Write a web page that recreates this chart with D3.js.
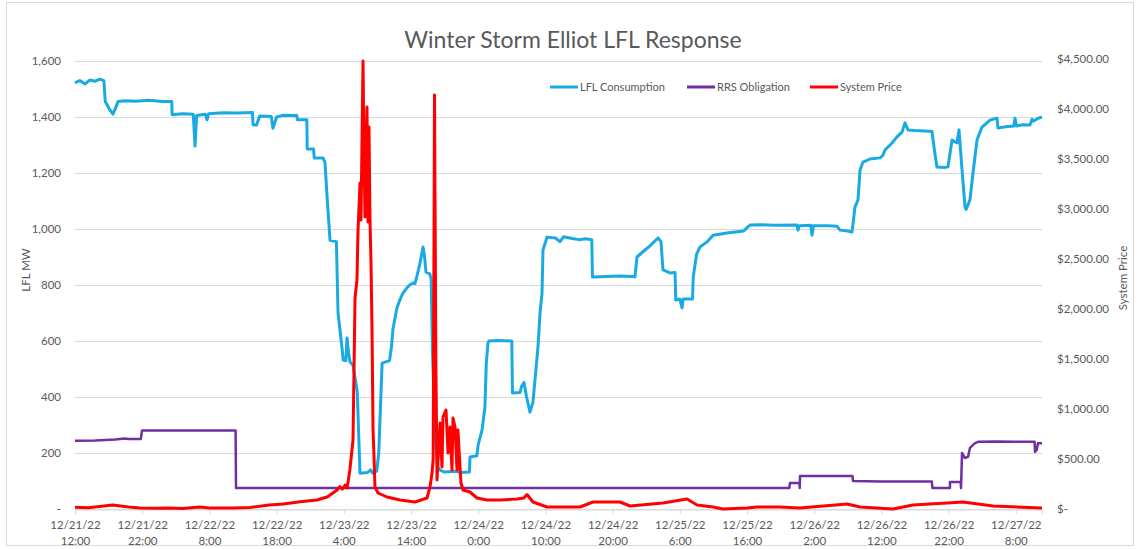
<!DOCTYPE html>
<html>
<head>
<meta charset="utf-8">
<script src="https://cdn.jsdelivr.net/npm/d3@7"></script>
<style>
  html, body { margin: 0; padding: 0; background: #fff; }
  svg { display: block; font-family: Lato, "Open Sans", sans-serif; }
</style>
</head>
<body>
<svg id="chart" width="1139" height="549"></svg>
<script>
// ---------- DATA (hours since 12/21/22 12:00) ----------
const chartTitle = "Winter Storm Elliot LFL Response";
const seriesNames = ["LFL Consumption", "RRS Obligation", "System Price"];
const xTickHours = [0, 10, 20, 30, 40, 50, 60, 70, 80, 90, 100, 110, 120, 130, 140];
const leftTicks = [0, 200, 400, 600, 800, 1000, 1200, 1400, 1600];
const rightTicks = [0, 500, 1000, 1500, 2000, 2500, 3000, 3500, 4000, 4500];

const lflHours = [0,0.7,1.5,2.2,3.0,3.7,4.3,4.5,5.2,5.65,6.0,6.4,7.5,9.0,11.0,13.0,14.4,14.45,16.0,17.6,17.86,18.1,19.4,19.64,19.9,22.0,24.0,26.4,26.5,27.0,27.5,29.2,29.46,30.0,31.0,33.0,33.1,34.5,34.55,35.5,35.6,36.9,37.2,37.5,37.95,38.9,39.14,39.43,39.8,39.9,40.3,40.48,40.7,40.92,41.37,42.0,42.41,43.5,44.0,44.3,44.9,45.2,45.7,46.8,47.1,47.3,47.9,48.4,48.8,49.4,49.8,50.3,50.6,51.0,51.34,51.79,52.0,52.23,52.8,53.0,53.2,53.6,54.0,54.32,55.0,56.5,57.5,58.7,58.78,59.8,60.0,60.57,61.0,61.2,61.46,61.6,63.0,65.0,65.1,66.2,66.5,66.82,67.2,67.71,68.15,68.9,69.2,69.5,69.64,70.24,71.5,72.17,72.7,74.0,75.0,76.0,76.9,77.0,79.0,81.0,83.0,83.33,83.63,84.82,85.57,86.2,86.76,87.2,87.5,88.54,89.29,89.4,90.0,90.33,90.5,91.9,92.0,92.5,93.01,94.05,94.94,97.02,99.5,100.0,100.45,102.0,104.0,107.44,107.59,107.8,109.5,109.67,109.9,112.0,113.39,113.84,115.0,115.63,116.07,116.52,116.82,117.26,118.3,119.79,120.2,120.54,121.58,122.32,123.07,123.51,123.96,125.0,126.5,127.53,127.9,128.27,129.5,129.91,130.51,131.25,131.55,132.0,132.44,132.6,133.18,133.63,134.23,134.97,136.16,137.2,137.35,138.5,139.7,139.88,140.1,141.0,142.11,142.41,142.6,143.3,143.9];
const lflMW = [1522,1530,1518,1532,1528,1535,1530,1455,1425,1410,1430,1455,1458,1456,1460,1455,1455,1408,1412,1410,1296,1405,1410,1390,1412,1415,1414,1416,1372,1371,1404,1402,1360,1400,1406,1405,1390,1390,1286,1286,1254,1254,1238,1120,960,955,700,640,560,532,530,611,560,525,514,420,128,130,140,128,135,200,521,530,580,640,718,750,771,790,800,807,805,843,878,936,905,846,840,820,560,250,150,139,132,135,130,132,186,190,230,282,364,520,593,600,602,600,414,416,440,452,400,346,382,580,700,771,925,971,968,955,972,966,962,965,962,829,830,832,830,829,900,925,940,955,968,955,854,843,845,746,750,718,750,750,829,910,936,954,978,986,993,1005,1014,1015,1013,1014,996,1012,1013,978,1012,1012,1010,996,993,989,1079,1104,1211,1239,1250,1254,1262,1282,1307,1329,1346,1379,1354,1352,1350,1348,1280,1221,1220,1222,1318,1307,1354,1211,1079,1070,1104,1200,1318,1364,1389,1396,1361,1365,1368,1396,1368,1372,1371,1392,1385,1395,1400];

const rrsHours = [0,3,6,7.4,8.0,9.8,9.97,23.9,23.96,106.3,106.4,107.8,107.85,107.89,115.7,115.77,120,127.5,127.6,130.2,130.21,131.8,131.85,132.0,132.44,132.89,133.18,133.93,134.38,137,140,142.8,142.86,143.1,143.3,143.9];
const rrsMW = [244,245,248,252,250,250,280,280,75,75,93,93,75,118,118,100,98,98,75,75,96,96,75,200,182,186,218,235,240,241,240,240,204,210,235,235];

const priceHours = [0,2,5.6,8,9.7,12,13.8,16,18.6,20,23.4,26,28.9,31,33.5,36,37.6,39.0,39.4,39.8,40.2,40.5,40.9,41.37,41.67,41.96,42.11,42.41,42.56,42.86,43.0,43.15,43.45,43.6,43.75,43.9,44.05,44.2,44.35,44.45,44.64,45.09,46.43,48.36,50.6,52.38,52.83,53.13,53.3,53.5,53.7,53.87,54.32,54.61,54.76,55.21,55.51,55.8,56.1,56.25,56.55,56.85,56.99,57.29,57.44,57.74,58.78,59.82,61.31,63.24,65.77,66.8,67.26,68.15,70.24,75.15,77.08,81.1,82.59,87.5,91.07,92.56,94.94,96.43,100.0,101.49,104.91,107.89,114.88,116.82,121.73,124.7,129.76,132.14,136.61,143.9];
const priceUSD = [17,12,40,20,10,8,10,5,20,10,10,15,40,50,73,90,123,190,223,200,240,210,390,690,2110,2290,2770,3260,2890,4480,3600,2920,4020,2870,3820,2880,2460,1790,790,620,220,160,120,90,70,110,220,360,500,4140,1500,290,860,420,920,990,560,820,390,910,820,390,790,420,260,190,170,110,90,90,100,110,145,70,20,20,70,70,30,60,100,40,20,0,10,20,20,10,50,20,0,40,60,70,30,10];

// ---------- CHART ----------
const svg = d3.select("#chart");
const start = new Date(2022, 11, 21, 12, 0);
const hr = h => new Date(+start + h * 3600e3);

const plotL = 75, plotR = 1042, plotT = 61, plotB = 509;
const x = d3.scaleTime().domain([hr(0), hr(143.9)]).range([plotL, plotR]);
const yL = d3.scaleLinear().domain([0, 1600]).range([plotB, plotT]);
const yR = d3.scaleLinear().domain([0, 4500]).range([plotB, 59]);

const gray = "#595959";
const gridC = "#d9d9d9";

// outer border
svg.append("rect").attr("x", 6.5).attr("y", 2.5).attr("width", 1127).attr("height", 543)
  .attr("fill", "none").attr("stroke", gridC).attr("stroke-width", 1);

// title
svg.append("text").attr("x", 573).attr("y", 48).attr("text-anchor", "middle")
  .attr("font-size", 23).attr("fill", gray).text(chartTitle);

// gridlines
svg.append("g").selectAll("line").data(leftTicks).join("line")
  .attr("x1", plotL).attr("x2", plotR)
  .attr("y1", d => Math.round(yL(d)) + 0.5).attr("y2", d => Math.round(yL(d)) + 0.5)
  .attr("stroke", gridC).attr("stroke-width", 1);

// left axis
const leftAxis = d3.axisLeft(yL).tickValues(leftTicks).tickSize(0).tickPadding(0)
  .tickFormat(d => d === 0 ? "-" : d3.format(",")(d));
const gL = svg.append("g").attr("transform", `translate(${plotL - 14},0)`).call(leftAxis);
gL.select(".domain").remove();
gL.selectAll("text").attr("font-size", 11.5).attr("fill", gray).attr("font-family", "Lato, sans-serif");

// right axis
const rightAxis = d3.axisRight(yR).tickValues(rightTicks).tickSize(0).tickPadding(0)
  .tickFormat(d => d === 0 ? "$-" : "$" + d3.format(",.2f")(d));
const gR = svg.append("g").attr("transform", `translate(1057,0)`).call(rightAxis);
gR.select(".domain").remove();
gR.selectAll("text").attr("font-size", 11.5).attr("fill", gray).attr("font-family", "Lato, sans-serif");

// bottom axis
const fmtD = d3.timeFormat("%m/%d/%y"), fmtT = d3.timeFormat("%-H:%M");
const bottomAxis = d3.axisBottom(x).tickValues(xTickHours.map(hr)).tickSize(5).tickFormat("");
const gB = svg.append("g").attr("transform", `translate(0,${plotB + 0.5})`).call(bottomAxis);
gB.select(".domain").attr("stroke", gridC);
gB.selectAll(".tick line").attr("stroke", gridC);
const tk = gB.selectAll(".tick");
tk.append("text").attr("y", 19).attr("text-anchor", "middle").attr("font-size", 11.5)
  .attr("fill", gray).attr("font-family", "Lato, sans-serif").text(d => fmtD(d));
tk.append("text").attr("y", 35).attr("text-anchor", "middle").attr("font-size", 11.5)
  .attr("fill", gray).attr("font-family", "Lato, sans-serif").text(d => fmtT(d));

// axis titles
svg.append("text").attr("transform", "translate(30,270) rotate(-90)").attr("text-anchor", "middle")
  .attr("font-size", 11.5).attr("fill", gray).text("LFL MW");
svg.append("text").attr("transform", "translate(1127,278) rotate(-90)").attr("text-anchor", "middle")
  .attr("font-size", 11.5).attr("fill", gray).text("System Price");

// lines
const colors = ["#1AAAE3", "#7030A0", "#FF0000"];
const mk = (hs, vs) => hs.map((h, i) => [hr(h), vs[i]]);
const lineL = d3.line().x(d => x(d[0])).y(d => yL(d[1]));
const lineR = d3.line().x(d => x(d[0])).y(d => yR(d[1]));
svg.append("path").datum(mk(lflHours, lflMW)).attr("d", lineL)
  .attr("fill", "none").attr("stroke", colors[0]).attr("stroke-width", 3).attr("stroke-linejoin", "round");
svg.append("path").datum(mk(rrsHours, rrsMW)).attr("d", lineL)
  .attr("fill", "none").attr("stroke", colors[1]).attr("stroke-width", 2.5).attr("stroke-linejoin", "round");
svg.append("path").datum(mk(priceHours, priceUSD)).attr("d", lineR)
  .attr("fill", "none").attr("stroke", colors[2]).attr("stroke-width", 3).attr("stroke-linejoin", "round");

// legend
const legX = [550, 687, 810];
const lg = svg.append("g").selectAll("g").data(seriesNames).join("g")
  .attr("transform", (d, i) => `translate(${legX[i]},87)`);
lg.append("line").attr("x1", 0).attr("x2", 28).attr("y1", 0).attr("y2", 0)
  .attr("stroke", (d, i) => colors[i]).attr("stroke-width", 3);
lg.append("text").attr("x", 30).attr("y", 4).attr("font-size", 11).attr("fill", gray).text(d => d);
</script>
</body>
</html>
